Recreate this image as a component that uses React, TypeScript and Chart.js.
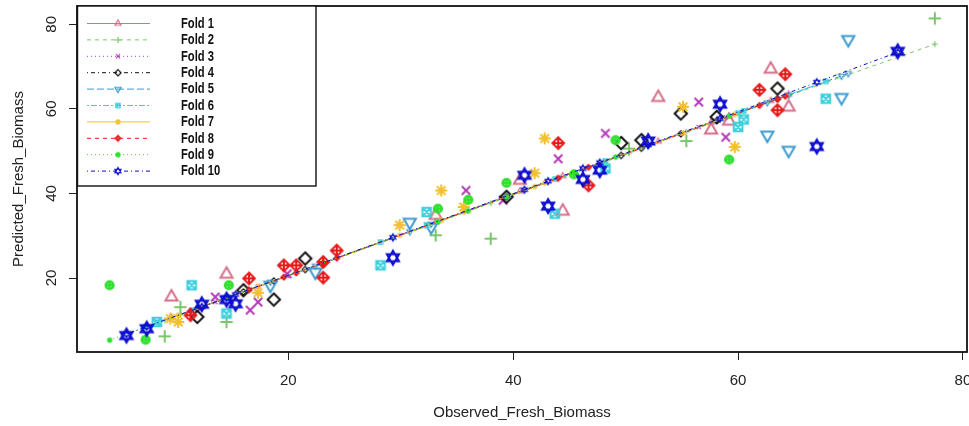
import React, { useEffect, useRef } from "react";
import { Chart, registerables } from "chart.js";

Chart.register(...registerables);

// ---------- data ----------
const FOLD_LABELS = ["Fold 1", "Fold 2", "Fold 3", "Fold 4", "Fold 5", "Fold 6", "Fold 7", "Fold 8", "Fold 9", "Fold 10"];
const X_TICKS = [20, 40, 60, 80];
const Y_TICKS = [20, 40, 60, 80];
const X_TITLE = "Observed_Fresh_Biomass";
const Y_TITLE = "Predicted_Fresh_Biomass";

const F1_OBS = [9.6, 14.5, 33.1, 40.6, 44.4, 52.9, 57.6, 59.2, 62.9, 64.5];
const F1_PRED = [15.5, 20.9, 34.8, 43.1, 35.8, 62.7, 55.0, 57.1, 69.4, 60.4];
const F1_FIT = [10.6, 15.3, 33.2, 40.5, 44.1, 52.3, 56.8, 58.3, 61.9, 63.4];

const F2_OBS = [9.0, 10.4, 14.5, 33.1, 38.0, 50.3, 55.4, 77.5];
const F2_PRED = [6.2, 13.1, 9.6, 30.1, 29.3, 50.6, 52.4, 81.4];
const F2_FIT = [10.0, 11.3, 15.2, 33.0, 37.7, 49.5, 54.6, 75.3];

const F3_OBS = [13.5, 16.6, 17.3, 19.9, 35.8, 39.1, 44.0, 48.2, 56.5, 58.9];
const F3_PRED = [15.5, 12.4, 14.3, 21.0, 40.7, 38.4, 48.2, 54.2, 61.6, 53.3];
const F3_FIT = [14.3, 17.3, 18.0, 20.5, 35.8, 38.9, 43.7, 47.7, 55.7, 58.0];

const F4_OBS = [11.9, 16.0, 18.7, 21.5, 39.4, 49.6, 51.4, 54.9, 58.1, 63.5];
const F4_PRED = [10.8, 17.1, 14.9, 24.6, 39.2, 51.9, 52.6, 58.9, 58.1, 64.8];
const F4_FIT = [12.8, 16.7, 19.3, 22.0, 39.2, 49.0, 50.7, 54.1, 57.2, 62.4];

const F5_OBS = [18.4, 22.4, 30.8, 32.7, 62.6, 64.5, 69.2, 69.8];
const F5_PRED = [18.3, 21.4, 33.2, 32.1, 53.8, 50.2, 62.7, 76.4];
const F5_FIT = [19.1, 22.9, 31.0, 32.8, 61.5, 63.3, 67.8, 68.4];

const F6_OBS = [8.3, 11.4, 14.5, 28.2, 32.3, 43.7, 48.2, 60.0, 60.5, 67.8];
const F6_PRED = [9.6, 18.3, 11.6, 23.0, 35.6, 35.2, 45.9, 55.7, 57.5, 62.4];
const F6_FIT = [9.5, 12.4, 15.4, 28.5, 32.4, 43.4, 47.7, 59.0, 59.5, 66.5];

const F7_OBS = [9.5, 10.2, 17.3, 29.9, 33.6, 35.6, 41.9, 42.8, 55.1, 59.7];
const F7_PRED = [10.4, 9.6, 16.5, 32.5, 40.7, 36.8, 44.8, 53.0, 60.5, 51.0];
const F7_FIT = [10.5, 11.2, 18.0, 30.1, 33.6, 35.6, 41.6, 42.5, 54.3, 58.7];

const F8_OBS = [11.3, 16.5, 19.6, 20.7, 23.1, 23.1, 24.3, 44.0, 46.7, 61.9, 63.5, 64.2];
const F8_PRED = [11.2, 19.9, 23.0, 23.0, 20.1, 23.8, 26.5, 51.9, 41.9, 64.5, 59.7, 68.2];
const F8_FIT = [12.2, 17.2, 20.2, 21.2, 23.5, 23.5, 24.7, 43.6, 46.2, 60.8, 62.3, 63.0];

const F9_OBS = [4.1, 7.3, 14.7, 33.3, 36.0, 39.4, 45.4, 49.1, 59.2];
const F9_PRED = [18.3, 5.4, 18.3, 36.4, 38.5, 42.5, 44.5, 52.6, 48.0];
const F9_FIT = [5.3, 8.4, 15.5, 33.3, 35.9, 39.2, 45.0, 48.6, 58.3];

const F10_OBS = [5.6, 7.4, 12.3, 14.5, 15.3, 29.3, 41.0, 43.1, 46.2, 47.7, 52.0, 58.4, 67.0, 74.2];
const F10_PRED = [6.4, 8.0, 13.8, 14.9, 13.9, 24.8, 44.3, 37.0, 43.3, 45.5, 52.4, 61.1, 51.1, 73.6];
const F10_FIT = [6.7, 8.5, 13.2, 15.3, 16.1, 29.6, 40.9, 42.9, 45.9, 47.3, 51.5, 57.7, 66.3, 73.4];

const FOLD_OBS = [F1_OBS, F2_OBS, F3_OBS, F4_OBS, F5_OBS, F6_OBS, F7_OBS, F8_OBS, F9_OBS, F10_OBS];
const FOLD_PRED = [F1_PRED, F2_PRED, F3_PRED, F4_PRED, F5_PRED, F6_PRED, F7_PRED, F8_PRED, F9_PRED, F10_PRED];
const FOLD_FIT = [F1_FIT, F2_FIT, F3_FIT, F4_FIT, F5_FIT, F6_FIT, F7_FIT, F8_FIT, F9_FIT, F10_FIT];

// ---------- style ----------
const FONT = "'Liberation Sans', Arial, Helvetica, sans-serif";
const COLORS = ["#D6708A", "#78C86A", "#B43CB8", "#111111", "#3C9BD0", "#3FCFDC", "#F2C02E", "#E61A1A", "#2FE02F", "#0C0CD0"];
const DASHES = [[], [4, 4], [1, 3], [1, 3, 4, 3], [7, 3], [2, 2, 6, 2], [], [4, 4], [1, 3], [1, 3, 4, 3]];
const KINDS = ["tri", "plus", "x", "diamond", "triDown", "sqx", "asterisk", "diamondPlus", "circlePlus", "david"];
const R_LARGE = [7, 6.2, 5.8, 6.2, 7, 5.4, 6, 5.8, 3.8, 7];
const LW_LARGE = [2, 2, 2, 2, 2, 2, 2, 2, 2.6, 2];

function makeSymbol(kind: string, color: string, R: number, lw: number) {
  let s = Math.ceil(2 * R + 2 * lw + 4);
  if (s % 2) s += 1;
  const cv = document.createElement("canvas");
  cv.width = s;
  cv.height = s;
  const ctx = cv.getContext("2d") as CanvasRenderingContext2D;
  const c = s / 2;
  ctx.strokeStyle = color;
  ctx.fillStyle = color;
  ctx.lineWidth = lw;
  ctx.lineJoin = "miter";
  ctx.beginPath();
  const poly = (pts: number[][]) => {
    ctx.moveTo(c + pts[0][0], c + pts[0][1]);
    for (let i = 1; i < pts.length; i++) ctx.lineTo(c + pts[i][0], c + pts[i][1]);
    ctx.closePath();
  };
  const seg = (x1: number, y1: number, x2: number, y2: number) => {
    ctx.moveTo(c + x1, c + y1);
    ctx.lineTo(c + x2, c + y2);
  };
  const d = R * 0.72;
  switch (kind) {
    case "tri":
      poly([[0, -R], [0.866 * R, 0.5 * R], [-0.866 * R, 0.5 * R]]);
      break;
    case "triDown":
      poly([[0, R], [0.866 * R, -0.5 * R], [-0.866 * R, -0.5 * R]]);
      break;
    case "plus":
      seg(-R, 0, R, 0);
      seg(0, -R, 0, R);
      break;
    case "x":
      seg(-d, -d, d, d);
      seg(-d, d, d, -d);
      break;
    case "diamond":
      poly([[0, -R], [R, 0], [0, R], [-R, 0]]);
      break;
    case "sqx": {
      const h = R * 0.8;
      poly([[-h, -h], [h, -h], [h, h], [-h, h]]);
      seg(-h, -h, h, h);
      seg(-h, h, h, -h);
      break;
    }
    case "asterisk":
      seg(-R, 0, R, 0);
      seg(0, -R, 0, R);
      seg(-d, -d, d, d);
      seg(-d, d, d, -d);
      break;
    case "diamondPlus":
      poly([[0, -R], [R, 0], [0, R], [-R, 0]]);
      seg(-R, 0, R, 0);
      seg(0, -R, 0, R);
      break;
    case "circlePlus":
      ctx.arc(c, c, R, 0, Math.PI * 2);
      seg(-R, 0, R, 0);
      seg(0, -R, 0, R);
      break;
    case "david":
      poly([[0, -R], [0.866 * R, 0.5 * R], [-0.866 * R, 0.5 * R]]);
      poly([[0, R], [0.866 * R, -0.5 * R], [-0.866 * R, -0.5 * R]]);
      break;
  }
  ctx.stroke();
  return cv;
}

const boxPlugin = {
  id: "rbox",
  afterDraw(chart: any) {
    const { ctx, chartArea } = chart;
    ctx.save();
    ctx.strokeStyle = "#111";
    ctx.lineWidth = 1.8;
    ctx.strokeRect(chartArea.left, chartArea.top, chartArea.right - chartArea.left, chartArea.bottom - chartArea.top);
    ctx.restore();
  },
};

const legendPlugin = {
  id: "rlegend",
  afterDraw(chart: any) {
    const { ctx, chartArea } = chart;
    const left = chartArea.left;
    const top = chartArea.top;
    const right = 316;
    const bottom = 186;
    ctx.save();
    ctx.fillStyle = "#fff";
    ctx.fillRect(left, top, right - left, bottom - top);
    ctx.strokeStyle = "#111";
    ctx.lineWidth = 1.4;
    ctx.strokeRect(left + 0.5, top, right - left - 0.5, bottom - top);
    const lines = chart.data.datasets.filter((d: any) => d.isFitLine);
    lines.forEach((ds: any, i: number) => {
      const y = 23.5 + i * 16.4;
      ctx.save();
      ctx.strokeStyle = ds.borderColor;
      ctx.lineWidth = 1;
      ctx.setLineDash(ds.borderDash || []);
      ctx.beginPath();
      ctx.moveTo(87, y);
      ctx.lineTo(150, y);
      ctx.stroke();
      ctx.restore();
      const sym = ds.pointStyle as HTMLCanvasElement;
      ctx.drawImage(sym, 118 - sym.width / 2, y - sym.height / 2);
      ctx.save();
      ctx.fillStyle = "#111";
      ctx.font = "bold 14px " + FONT;
      ctx.textBaseline = "middle";
      ctx.translate(181, y + 0.5);
      ctx.scale(0.8, 1);
      ctx.fillText(ds.label, 0, 0);
      ctx.restore();
    });
    ctx.restore();
  },
};

export default function App() {
  const ref = useRef<HTMLCanvasElement | null>(null);
  useEffect(() => {
    if (!ref.current) return;
    const datasets: any[] = [];
    FOLD_LABELS.forEach((label, k) => {
      const big = makeSymbol(KINDS[k], COLORS[k], R_LARGE[k], LW_LARGE[k]);
      const small = makeSymbol(KINDS[k], COLORS[k], R_LARGE[k] * 0.5, Math.max(1, LW_LARGE[k] * 0.6));
      datasets.push({
        label: label + " pts",
        data: FOLD_OBS[k].map((x, i) => ({ x, y: FOLD_PRED[k][i] })),
        showLine: false,
        pointStyle: big,
        pointRadius: 6,
        order: 100 - 2 * k,
      });
      datasets.push({
        label,
        isFitLine: true,
        data: FOLD_OBS[k].map((x, i) => ({ x, y: FOLD_FIT[k][i] })),
        showLine: true,
        borderColor: COLORS[k],
        borderWidth: 1,
        borderDash: DASHES[k],
        pointStyle: small,
        pointRadius: 3,
        tension: 0,
        fill: false,
        order: 99 - 2 * k,
      });
    });
    const tickFont = { family: FONT, size: 15 };
    const chart = new Chart(ref.current, {
      type: "scatter",
      data: { datasets },
      options: {
        responsive: false,
        animation: false,
        events: [],
        layout: { autoPadding: false, padding: { top: 6, right: 2, left: 0, bottom: 0 } },
        plugins: { legend: { display: false }, tooltip: { enabled: false } },
        scales: {
          x: {
            type: "linear",
            position: "bottom",
            min: 1.2,
            max: 80.36,
            afterBuildTicks: (s: any) => {
              s.ticks = X_TICKS.map((v) => ({ value: v }));
            },
            afterFit: (s: any) => {
              s.height = 74;
              s.paddingLeft = 0;
              s.paddingRight = 0;
            },
            grid: { drawOnChartArea: false, drawTicks: true, tickLength: 8, color: "#222", lineWidth: 1 },
            border: { display: false },
            ticks: { font: tickFont, color: "#222", padding: 12, maxRotation: 0, minRotation: 0, autoSkip: false },
            title: { display: true, text: X_TITLE, font: tickFont, color: "#222", padding: { top: 0, bottom: 4 } },
          },
          y: {
            type: "linear",
            position: "left",
            min: 2.5,
            max: 84.33,
            afterBuildTicks: (s: any) => {
              s.ticks = Y_TICKS.map((v) => ({ value: v }));
            },
            afterFit: (s: any) => {
              s.width = 77;
              s.paddingTop = 0;
              s.paddingBottom = 0;
            },
            grid: { drawOnChartArea: false, drawTicks: true, tickLength: 8, color: "#222", lineWidth: 1 },
            border: { display: false },
            ticks: { font: tickFont, color: "#222", padding: 9, minRotation: 90, maxRotation: 90, crossAlign: "center", autoSkip: false },
            title: { display: true, text: Y_TITLE, font: tickFont, color: "#222", padding: { top: 10, bottom: 0 } },
          },
        },
      } as any,
      plugins: [boxPlugin, legendPlugin],
    });
    return () => chart.destroy();
  }, []);
  return (
    <div style={{ position: "fixed", left: 0, top: 0, width: 969, height: 426, background: "#fff" }}>
      <canvas ref={ref} width={969} height={426} style={{ display: "block", width: 969, height: 426 }} />
    </div>
  );
}
